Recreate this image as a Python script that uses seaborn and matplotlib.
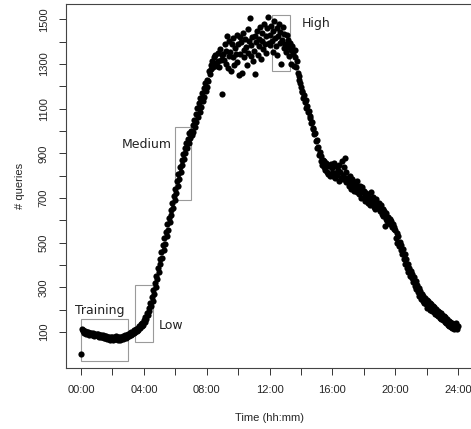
import numpy as np
import pandas as pd
import matplotlib
matplotlib.use("Agg")
import matplotlib.pyplot as plt
import matplotlib.patches as patches
import seaborn as sns

# queries per 3 minutes (20 samples per hour)
queries = [
    0, 112, 104, 108, 96, 103, 92, 101, 94, 99, 88, 97, 90, 95, 86, 94, 88, 84, 93, 85,
    91, 82, 90, 80, 88, 78, 87, 77, 85, 74, 83, 72, 81, 70, 80, 68, 78, 66, 77, 68,
    79, 65, 78, 68, 82, 70, 80, 66, 77, 64, 76, 68, 80, 70, 82, 72, 85, 75, 88, 78,
    90, 82, 95, 86, 98, 92, 101, 96, 108, 99, 115, 105, 120, 110, 128, 117, 134, 126, 141, 133,
    152, 146, 168, 160, 185, 178, 206, 196, 230, 218, 258, 240, 290, 270, 318, 300, 350, 336, 388, 370,
    425, 405, 458, 432, 488, 466, 520, 494, 548, 530, 582, 556, 612, 592, 646, 622, 676, 654, 710, 690,
    740, 722, 775, 752, 808, 786, 840, 818, 870, 850, 896, 876, 922, 900, 946, 925, 966, 948, 990, 968,
    1000, 982, 1026, 995, 1050, 1020, 1078, 1040, 1102, 1062, 1125, 1085, 1150, 1108, 1172, 1135, 1195, 1152, 1215, 1178,
    1198, 1230, 1222, 1268, 1255, 1296, 1279, 1312, 1286, 1330, 1296, 1342, 1305, 1290, 1350, 1312, 1285, 1368, 1320, 1341,
    1165, 1345, 1318, 1392, 1301, 1360, 1425, 1284, 1337, 1402, 1356, 1270, 1388, 1330, 1415, 1298, 1372, 1346, 1431, 1310,
    1389, 1252, 1420, 1347, 1398, 1262, 1441, 1365, 1330, 1412, 1378, 1296, 1455, 1350, 1402, 1508, 1336, 1384, 1421, 1313,
    1360, 1427, 1255, 1398, 1446, 1341, 1412, 1380, 1465, 1322, 1404, 1437, 1369, 1478, 1391, 1350, 1425, 1460, 1512, 1395,
    1432, 1385, 1470, 1402, 1448, 1356, 1495, 1418, 1380, 1462, 1340, 1427, 1480, 1395, 1445, 1302, 1410, 1468, 1372, 1436,
    1390, 1352, 1428, 1375, 1410, 1338, 1395, 1362, 1300, 1380, 1345, 1290, 1365, 1330, 1285, 1312, 1262, 1245, 1228, 1215,
    1196, 1176, 1180, 1150, 1160, 1128, 1140, 1105, 1112, 1085, 1090, 1058, 1068, 1035, 1040, 1008, 1015, 985, 990, 955,
    960, 925, 930, 895, 905, 868, 888, 850, 872, 838, 865, 826, 858, 815, 850, 808, 845, 800, 852, 810,
    836, 798, 855, 812, 790, 842, 805, 826, 778, 850, 815, 792, 868, 803, 784, 840, 880, 772, 815, 790,
    781, 752, 798, 765, 742, 785, 758, 730, 772, 748, 760, 725, 778, 742, 718, 755, 735, 702, 748, 726,
    732, 705, 688, 722, 698, 712, 680, 702, 668, 725, 690, 672, 705, 662, 684, 650, 695, 672, 655, 678,
    660, 642, 668, 630, 652, 618, 640, 575, 605, 632, 598, 615, 590, 606, 584, 596, 572, 585, 562, 570,
    555, 520, 545, 500, 530, 485, 505, 466, 488, 448, 470, 428, 448, 405, 425, 385, 405, 368, 385, 350,
    372, 340, 358, 325, 345, 308, 330, 292, 312, 278, 298, 262, 285, 250, 270, 240, 262, 228, 252, 225,
    245, 208, 238, 212, 232, 200, 225, 195, 215, 188, 210, 182, 202, 178, 196, 172, 190, 165, 185, 160,
    178, 152, 172, 145, 166, 140, 158, 132, 150, 128, 145, 122, 140, 118, 138, 112, 132, 120, 140, 115,
    128,
]
hours = np.arange(len(queries)) / 20.0  # sampling grid, hours

# load windows (label, start h, end h, low, high)
win_names = ["Training", "Low", "Medium", "High"]
win_x0 = [0.0, 3.45, 6.0, 12.15]
win_x1 = [2.97, 4.6, 7.0, 13.3]
win_y0 = [-28, 55, 690, 1270]
win_y1 = [157, 310, 1018, 1520]
# where the labels sit
lab_x = [1.18, 5.7, 4.2, 15.0]
lab_y = [198, 131, 942, 1480]

x_ticks = list(range(0, 25, 2))
x_labels = ["%02d:00" % h if h % 4 == 0 else "" for h in x_ticks]
y_ticks = list(range(100, 1501, 100))
y_labels = [str(v) if v % 200 == 100 else "" for v in y_ticks]

df = pd.DataFrame({"time": hours, "queries": queries})

sns.set_style("ticks")
plt.rcParams["font.family"] = ["Liberation Sans", "DejaVu Sans"]

fig = plt.figure(figsize=(4.71, 4.29), dpi=100)
ax = fig.add_axes([66 / 471, 61 / 429, (473 - 66) / 471, (368 - 4) / 429])

sns.scatterplot(data=df, x="time", y="queries", ax=ax, color="black",
                s=20, linewidth=0, legend=False, zorder=3)

for i in range(len(win_names)):
    ax.add_patch(patches.Rectangle((win_x0[i], win_y0[i]), win_x1[i] - win_x0[i],
                                   win_y1[i] - win_y0[i], fill=False,
                                   edgecolor="#9a9a9a", lw=0.8, zorder=2))
    ax.text(lab_x[i], lab_y[i], win_names[i], ha="center", va="center",
            fontsize=9, family="DejaVu Sans", color="#222222", zorder=4)

ax.set_xlim(-0.96, 24.96)
ax.set_ylim(-61, 1569)
ax.set_xticks(x_ticks)
ax.set_xticklabels(x_labels)
ax.set_yticks(y_ticks)
ax.set_yticklabels(y_labels, rotation=90, va="center")
ax.tick_params(axis="both", length=5, width=0.7, color="#333333",
               labelsize=8, pad=7.5)
for sp in ax.spines.values():
    sp.set_color("#444444")
    sp.set_linewidth(0.8)
ax.spines["right"].set_visible(False)  # cut off in the original

ax.set_xlabel("Time (hh:mm)", fontsize=8, labelpad=13)
ax.set_ylabel("# queries", fontsize=8, labelpad=10)

fig.savefig("out.png", dpi=100)
